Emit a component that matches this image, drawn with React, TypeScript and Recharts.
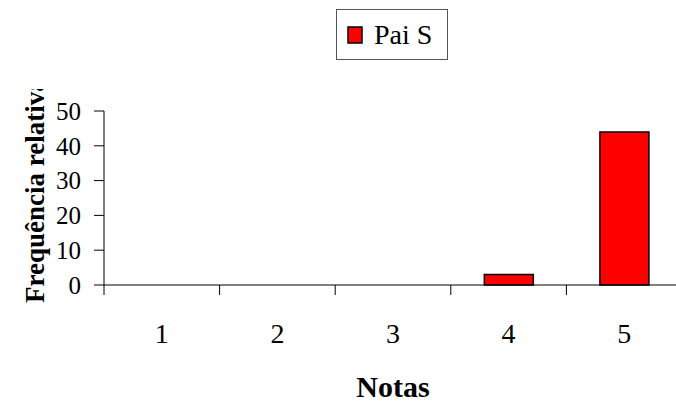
import React from 'react';
import { BarChart, Bar, XAxis, YAxis, Legend } from 'recharts';

const notas = ['1', '2', '3', '4', '5'];
const paiS = [0, 0, 0, 3, 44];
const yTicks = [0, 10, 20, 30, 40, 50];

const data = notas.map((nota, i) => ({ nota, paiS: paiS[i] }));

const FONT = "'Liberation Serif', 'DejaVu Serif', serif";
const CHART_W = 682;
const CHART_H = 405;
const Y_AXIS_W = 104;
const BAND = (CHART_W - Y_AXIS_W) / notas.length;

// category label in the middle, tick mark on the left edge of each band
const NotaTick = ({ x, y, payload }: { x?: number; y?: number; payload?: { value: string } }) => {
  const cx = Number(x);
  const cy = Number(y);
  const edge = cx - BAND / 2;
  return (
    <g>
      <line x1={edge} y1={cy} x2={edge} y2={cy + 10} stroke="#000" strokeWidth={1} />
      <text x={cx} y={cy + 58} textAnchor="middle" style={{ fontFamily: FONT }} fontSize={28} fill="#000">
        {payload?.value}
      </text>
    </g>
  );
};

// rotated axis title, cut off at the top like the original sheet
const YTitle = () => (
  <g>
    <defs>
      <clipPath id="ytitle-clip">
        <rect x={0} y={89} width={80} height={320} />
      </clipPath>
    </defs>
    <g clipPath="url(#ytitle-clip)">
      <text
        x={44}
        y={303}
        transform="rotate(-90 44 303)"
        textAnchor="start"
        style={{ fontFamily: FONT }}
        fontWeight="bold"
        fontSize={27}
        fill="#000"
      >
        Frequência relativa
      </text>
    </g>
  </g>
);

// boxed legend drawn as a small svg so it shares the chart's serif font
const LegendBox = ({ payload }: { payload?: Array<{ value: string; color?: string }> }) => (
  <svg width={112} height={51} style={{ display: 'block' }}>
    <rect x={0.5} y={0.5} width={111} height={50} fill="#fff" stroke="#555" strokeWidth={1} />
    {(payload ?? []).map((entry) => (
      <g key={entry.value}>
        <rect x={12} y={18} width={14} height={16} fill="#ff0000" stroke="#000" strokeWidth={1.5} />
        <text x={38} y={35} style={{ fontFamily: FONT }} fontSize={28} fill="#000">
          {entry.value}
        </text>
      </g>
    ))}
  </svg>
);

export default function App() {
  return (
    <div style={{ position: 'absolute', left: 0, top: 0, width: 676, height: 405, overflow: 'hidden', background: '#fff', fontFamily: FONT }}>
      <BarChart width={CHART_W} height={CHART_H} data={data} margin={{ top: 111, right: 0, bottom: 0, left: 0 }} barCategoryGap="29%">
        <XAxis
          dataKey="nota"
          height={120}
          axisLine={{ stroke: '#000', strokeWidth: 1 }}
          tickLine={false}
          tickSize={0}
          tickMargin={0}
          tick={<NotaTick />}
          interval={0}
          label={{ value: 'Notas', position: 'insideBottom', offset: 8, fontFamily: FONT, fontWeight: 'bold', fontSize: 30, fill: '#000' }}
        />
        <YAxis
          width={Y_AXIS_W}
          domain={[0, 50]}
          ticks={yTicks}
          interval={0}
          tickSize={10}
          tickMargin={13}
          axisLine={{ stroke: '#000', strokeWidth: 1 }}
          tickLine={{ stroke: '#000', strokeWidth: 1 }}
          tick={{ fontFamily: FONT, fontSize: 25, fill: '#000' }}
          label={{ content: <YTitle /> }}
        />
        <Legend
          layout="vertical"
          align="center"
          verticalAlign="middle"
          wrapperStyle={{ top: 9, left: 336, width: 112 }}
          content={<LegendBox />}
        />
        <Bar dataKey="paiS" name="Pai S" fill="#ff0000" stroke="#000" strokeWidth={1.5} isAnimationActive={false} />
      </BarChart>
    </div>
  );
}
